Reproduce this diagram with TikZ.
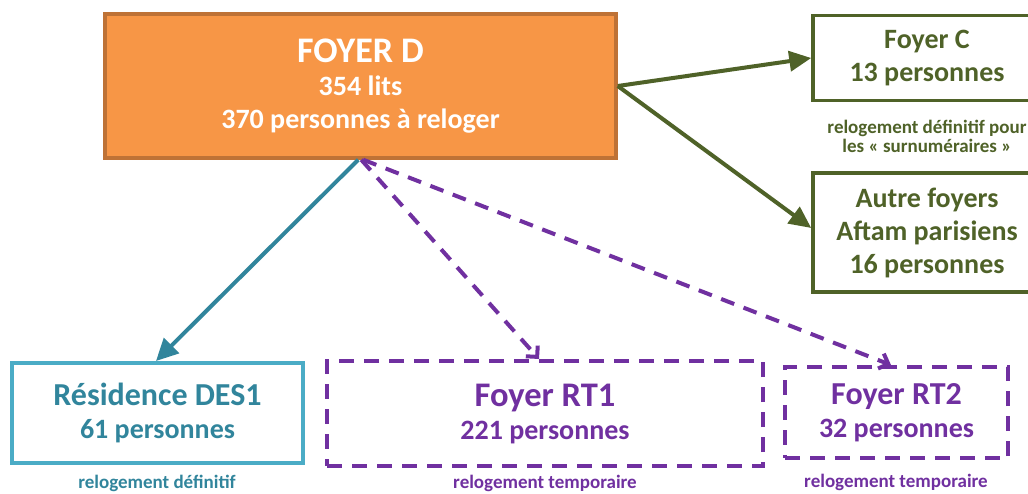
\documentclass[tikz,border=0pt]{standalone}
\usepackage{fontspec}
\setmainfont{Carlito}
\usetikzlibrary{arrows.meta,calc}
\definecolor{orangeF}{HTML}{F79646}
\definecolor{orangeB}{HTML}{BE7236}
\definecolor{olive}{HTML}{4F6228}
\definecolor{tealB}{HTML}{4BACC6}
\definecolor{tealT}{HTML}{31859C}
\definecolor{purp}{HTML}{7030A0}
\tikzset{
  box/.style={rectangle, inner sep=0pt, align=center, font=\bfseries\fontsize{28}{33}\selectfont},
  greenbox/.style={box, draw=olive, line width=3.5pt, text=olive, fill=white},
  dbox/.style={box, draw=purp, line width=4pt, text=purp, dash pattern=on 15pt off 10pt},
  captxt/.style={align=center, inner sep=0pt, font=\bfseries\fontsize{19}{19}\selectfont},
  garrow/.style={draw=olive, line width=4pt, -{Triangle[length=22pt,width=20pt]}},
  parrow/.style={draw=purp, line width=4pt, dash pattern=on 14pt off 10pt, -{Straight Barb[length=8pt,width=16pt,line width=4pt]}},
}
\begin{document}
\begin{tikzpicture}[x=1pt,y=-1pt]
\useasboundingbox (0,0) rectangle (1028,493);
\clip (0,0) rectangle (1028,493);
\fill[white] (0,0) rectangle (1028,493);
% main box
\node[box, fill=orangeF, draw=orangeB, line width=3.5pt, text=white, minimum width=511pt, minimum height=144pt] (D) at (360.5,86)
  {{\fontsize{36}{38}\selectfont FOYER D}\\354 lits\\370 personnes à reloger};
% green boxes
\node[greenbox, minimum width=228pt, minimum height=85pt] (C) at (927,58) {Foyer C\\13 personnes};
\node[captxt, text=olive] (capC) at (927,136) {relogement définitif pour\\les « surnuméraires »};
\node[greenbox, minimum width=228pt, minimum height=119pt] (A) at (927,232.5) {Autre foyers\\Aftam parisiens\\16 personnes};
% bottom boxes
\node[box, draw=tealB, line width=4pt, text=tealT, minimum width=291pt, minimum height=100pt] (DES) at (157.5,413)
  {{\fontsize{32}{35}\selectfont Résidence DES1}\\61 personnes};
\node[captxt, text=tealT, anchor=base] (capDES) at (157,488.5) {relogement définitif};
\node[dbox, minimum width=436pt, minimum height=105pt] (RT1) at (545,413.5)
  {{\fontsize{34.5}{37}\selectfont Foyer RT1}\\221 personnes};
\node[captxt, text=purp, anchor=base] (capRT1) at (545,488.5) {relogement temporaire};
\node[dbox, minimum width=223pt, minimum height=91pt] (RT2) at (896.5,412.5)
  {{\fontsize{32}{35}\selectfont Foyer RT2}\\32 personnes};
\node[captxt, text=purp, anchor=base] (capRT2) at (896,487) {relogement temporaire};
% connectors
\draw[garrow] (D.east) -- (C.west);
\draw[garrow] (D.east) -- ($(A.west)+(0,-4.5)$);
\draw[draw=tealT, line width=4pt, -{Triangle[length=22pt,width=21pt]}] ($(D.south west)+(255,0)$) -- ($(DES.north west)+(146,0)$);
\draw[parrow] ($(D.south west)+(258,0)$) -- ($(RT1.north west)+(214,0)$);
\draw[parrow] ($(D.south west)+(260,0)$) -- ($(RT2.north west)+(108,0)$);
\end{tikzpicture}
\end{document}
